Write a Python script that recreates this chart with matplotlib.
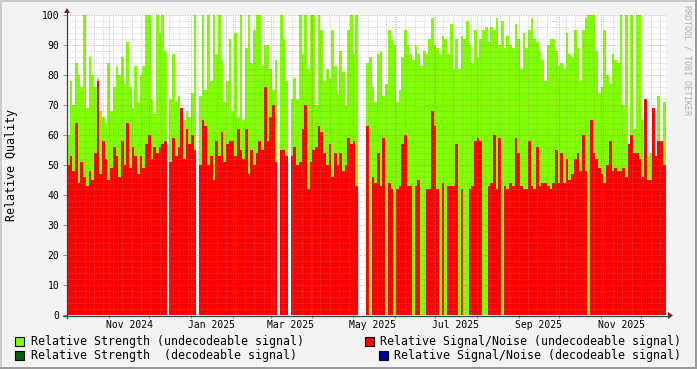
import numpy as np
import matplotlib
matplotlib.use('Agg')
import matplotlib.pyplot as plt
from matplotlib.patches import Rectangle, Polygon
from matplotlib.lines import Line2D

W, H = 697, 369
MONO = 'DejaVu Sans Mono'

# one value per 2-day bin, starting 2024-10-01 (nan = no data)
start = np.datetime64('2024-10-01')
bin_days = 2
nan = np.nan

strength = [
    60, 78, 70, 84, 80, 76, 100, 69, 86, 80,
    76, 79, 68, 66, 64, 84, 68, 76, 83, 80,
    86, 77, 91, 76, 69, 83, 71, 80, 83, 100,
    100, 72, 67, 100, 94, 100, 88, nan,
    72, 87, 71, 73, 68, 65, 68, 66, 74, 100, nan,
    73, 100, 75, 100, 78, 100, 87, 100, 85, 71, 78,
    92, 68, 94, 66, 100, 65, 89, 100, 84, 95, 100, 100, 83,
    90, 90, 82, 75, 85, nan, 100, 92, 78, nan,
    72, 79, 72, 100, 87, 100, 82, 100, 100, 70,
    100, 95, 78, 82, 79, 95, 83, 74, 88, 81,
    70, 95, 100, 87, 100, nan, nan, nan,
    84, 86, 76, 71, 87, 88, 73, 77, 95, 92,
    90, 71, 75, 86, 95, 90, 87, 85, 90, 87,
    83, 88, 87, 92, 99, 90, 89, 87, 93, 92,
    87, 97, 82, 92, 82, 93, 92, 98, 90, 84,
    95, 86, 92, 95, 96, 91, 96, 95, 99, 90,
    98, 89, 93, 90, 89, 97, 92, 82, 94, 89,
    95, 99, 92, 91, 88, 85, 78, 90, 92, 92,
    88, 83, 84, 82, 94, 87, 86, 95, 89, 78,
    95, 99, 100, 100, 100, 88, 74, 76, 95, 80,
    77, 87, 85, 84, 100, 70, 100, 46, 100, 62,
    100, 100, 65, 50, 53, 54, 50, 53, 73, 58, 71,
]

snr = [
    50, 53, 48, 64, 44, 51, 46, 43, 48, 45,
    54, 78, 47, 58, 52, 45, 49, 56, 53, 46,
    58, 50, 64, 49, 56, 53, 47, 53, 49, 57,
    60, 52, 56, 54, 56, 57, 58, nan,
    51, 59, 53, 56, 69, 52, 62, 57, 60, 55, nan,
    50, 65, 63, 50, 53, 45, 58, 53, 61, 51, 57,
    58, 58, 53, 62, 55, 52, 62, 47, 55, 50, 54, 58, 55,
    76, 58, 66, 70, 51, nan, 55, 55, 53, nan,
    53, 56, 50, 51, 62, 70, 42, 51, 55, 56,
    63, 61, 54, 50, 57, 46, 54, 50, 54, 48,
    50, 59, 57, 58, 43, nan, nan, nan,
    63, 0, 46, 44, 54, 43, 59, 0, 44, 42,
    0, 42, 43, 57, 60, 43, 43, 0, 43, 45,
    0, 0, 42, 42, 68, 63, 42, 0, 44, 0,
    43, 43, 43, 57, 0, 42, 0, 0, 42, 43,
    58, 59, 58, 0, 0, 43, 44, 60, 42, 59,
    0, 43, 42, 44, 43, 59, 54, 43, 42, 42,
    58, 43, 42, 56, 43, 44, 44, 43, 42, 44,
    55, 44, 54, 44, 52, 45, 47, 52, 54, 48,
    60, 48, 0, 65, 54, 52, 49, 47, 44, 50,
    58, 48, 49, 48, 48, 49, 46, 57, 60, 54,
    54, 52, 46, 72, 45, 45, 69, 53, 58, 58, 50,
]

label_months = ['2024-11', '2025-01', '2025-03', '2025-05', '2025-07', '2025-09', '2025-11']
label_text = ['Nov 2024', 'Jan 2025', 'Mar 2025', 'May 2025', 'Jul 2025', 'Sep 2025', 'Nov 2025']

legend_labels = ['Relative Strength (undecodeable signal)',
                 'Relative Signal/Noise (undecodeable signal)',
                 'Relative Strength  (decodeable signal)',
                 'Relative Signal/Noise (decodeable signal)']
legend_colors = ['#80FF00', '#FF0000', '#006600', '#000099']


def fx(px):
    return px / W


def fy(py):
    return 1 - py / H


fig = plt.figure(figsize=(W / 100, H / 100), dpi=100)
fig.patch.set_facecolor('#F3F3F3')

n_days = len(strength) * bin_days
ax = fig.add_axes([fx(67), fy(315), 598.5 / W, 300 / H])
ax.set_facecolor('white')
ax.set_xlim(0, n_days)
ax.set_ylim(0, 100)
for s in ax.spines.values():
    s.set_visible(False)

x = np.arange(len(strength)) * bin_days
ax.bar(x, strength, width=bin_days, align='edge', color='#80FF00',
       linewidth=0, antialiased=False, zorder=1)
ax.bar(x, snr, width=bin_days, align='edge', color='#FF0000',
       linewidth=0, antialiased=False, zorder=2)

# grid (drawn over the data like rrdtool does)
months = np.arange('2024-10', '2026-01', dtype='datetime64[M]').astype('datetime64[D]')
month_pos = (months - start).astype(int)
month_pos = month_pos[(month_pos >= 0) & (month_pos <= n_days)]
week_pos = np.arange(6, n_days, 7)
dots = (0, (1, 1.4))
for p in week_pos:
    if p not in month_pos:
        ax.axvline(p, color='#8F8F8F', alpha=0.45, lw=0.72, ls=dots, zorder=3)
for p in month_pos:
    ax.axvline(p, color='#E05050', alpha=0.55, lw=0.72, ls=dots, zorder=4)
for yv in range(2, 101, 2):
    if yv % 10:
        ax.axhline(yv, color='#8F8F8F', alpha=0.45, lw=0.72, ls=dots, zorder=3)
    else:
        ax.axhline(yv, color='#E05050', alpha=0.55, lw=0.72, ls=dots, zorder=4)

# ticks
ax.set_yticks(range(0, 101, 10))
ax.tick_params(axis='y', length=3, width=0.7, color='#909090', pad=2.5,
               labelsize=7, labelcolor='black')
ax.set_xticks(month_pos)
ax.set_xticklabels([])
ax.tick_params(axis='x', which='major', length=2.5, width=0.7, color='#D06060')
lab_pos = (np.array(label_months, dtype='datetime64[M]').astype('datetime64[D]') - start).astype(int) + 15
ax.set_xticks(lab_pos, minor=True)
ax.set_xticklabels(label_text, minor=True)
ax.tick_params(axis='x', which='minor', length=0, pad=3.6, labelsize=7)
for t in ax.get_xticklabels(minor=True) + ax.get_yticklabels():
    t.set_fontfamily(MONO)

# axes lines and arrows
axis_col = '#2C4D43'
fig.add_artist(Line2D([fx(63), fx(669)], [fy(315.5), fy(315.5)], color=axis_col, lw=0.9))
fig.add_artist(Line2D([fx(67), fx(67)], [fy(318), fy(12)], color=axis_col, lw=0.9))
fig.add_artist(Polygon([(fx(668), fy(312)), (fx(673), fy(315.5)), (fx(668), fy(319))],
                       closed=True, color='#7F1F1F', lw=0))
fig.add_artist(Polygon([(fx(64), fy(13)), (fx(67), fy(8)), (fx(70), fy(13))],
                       closed=True, color='#7F1F1F', lw=0))

# frame shading
fig.add_artist(Rectangle((0, fy(2)), 1, 2 / H, color='#CBCBCB', lw=0))
fig.add_artist(Rectangle((0, 0), 2 / W, 1, color='#CBCBCB', lw=0))
fig.add_artist(Rectangle((0, 0), 1, 2 / H, color='#999999', lw=0))
fig.add_artist(Rectangle((fx(695), 0), 2 / W, 1, color='#999999', lw=0))

# labels
fig.text(fx(12), fy(165), 'Relative Quality', rotation=90, ha='center', va='center',
         fontsize=8.4, family=MONO)
fig.text(fx(687), fy(60), 'RRDTOOL / TOBI OETIKER', rotation=270, ha='center', va='center',
         fontsize=6, family=MONO, color='#B0B0B0')

# legend
box_x = [15, 365, 15, 379]
text_x = [30.5, 380, 30.5, 394]
row_y = [341, 341, 355, 355]
for lab, col, bx, tx, ry in zip(legend_labels, legend_colors, box_x, text_x, row_y):
    fig.add_artist(Rectangle((fx(bx), fy(ry + 4.5)), 9 / W, 9 / H, facecolor=col,
                             edgecolor='black', lw=0.8))
    fig.text(fx(tx), fy(ry), lab, ha='left', va='center', fontsize=8.37, family=MONO)

fig.savefig('out.png', dpi=100, facecolor=fig.get_facecolor())
